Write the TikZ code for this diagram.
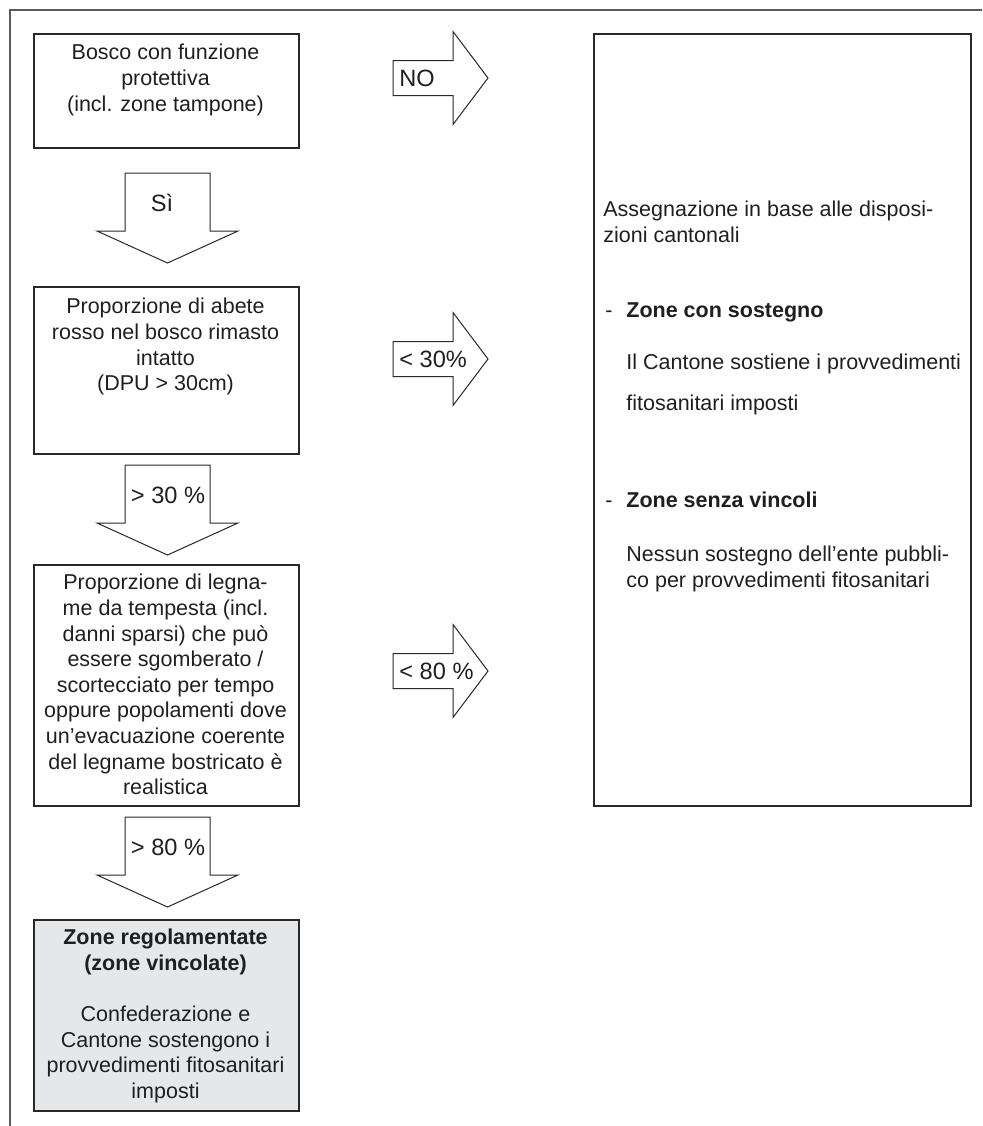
\documentclass[tikz,border=0pt]{standalone}
\usepackage{fontspec}
\setmainfont{Liberation Sans}
\definecolor{linegray}{RGB}{40,40,40}
\definecolor{framegray}{RGB}{90,90,90}
\definecolor{zoneshade}{RGB}{230,231,233}

\begin{document}
\begin{tikzpicture}[x=0.5pt,y=-0.5pt]
        \tikzstyle{every node}=[inner sep=0pt, font=\fontsize{10.75}{12.8}\selectfont, text=black!88]
        \tikzstyle{box}=[draw=linegray, line width=0.8pt, rectangle, anchor=north west]
        \tikzstyle{blockarrow}=[draw=linegray, line width=0.5pt, fill=white]
        \tikzstyle{arrowlabel}=[font=\fontsize{11.8}{13}\selectfont]
        \useasboundingbox (0,0) rectangle (982,1126);

        \draw [framegray, line width=0.8pt] (10,1126) -- (10,10) -- (982,10);

        % left column
        \foreach \nm/\ytop/\boxh in {bosco/33/57, abete/286/83.5, legname/564/120.5}
        {
          \path (33,\ytop) node[box, minimum width=132.5pt, minimum height=\boxh pt] (\nm) {};
        }
        \path (33,919) node[box, fill=zoneshade, minimum width=132.5pt, minimum height=95.5pt] (zone) {};

        \path (165.5,44) node[anchor=north, align=center] (t-bosco)
          {Bosco con funzione\\protettiva\\(incl. zone tampone)};
        \path (165.5,298) node[anchor=north, align=center] (t-abete)
          {Proporzione di abete\\rosso nel bosco rimasto\\intatto\\(DPU > 30cm)};
        \path (165.5,574) node[anchor=north, align=center] (t-legname)
          {Proporzione di legna-\\me da tempesta (incl.\\danni sparsi) che può\\essere sgomberato /\\scortecciato per tempo\\oppure popolamenti dove\\un’evacuazione coerente\\del legname bostricato è\\realistica};
        \path (165.5,929) node[anchor=north, align=center] (t-zone)
          {\textbf{Zone regolamentate}\\\textbf{(zone vincolate)}\\[12.8pt]Confederazione e\\Cantone sostengono i\\provvedimenti fitosanitari\\imposti};

        % right column
        \path (593,33) node[box, minimum width=188.5pt, minimum height=386pt] (cantone) {};
        \path (603,201) node[anchor=north west, align=left] (t-assegn)
          {Assegnazione in base alle disposi-\\zioni cantonali};
        \path (605,317) node[anchor=base west] (d1) {-};
        \path (626,317) node[anchor=base west] (z1) {\textbf{Zone con sostegno}};
        \path (626,354) node[anchor=north west, align=left] (t-z1)
          {Il Cantone sostiene i provvedimenti\\[7.7pt]fitosanitari imposti};
        \path (605,507) node[anchor=base west] (d2) {-};
        \path (626,507) node[anchor=base west] (z2) {\textbf{Zone senza vincoli}};
        \path (626,546) node[anchor=north west, align=left] (t-z2)
          {Nessun sostegno dell’ente pubbli-\\co per provvedimenti fitosanitari};

        % block arrows
        \foreach \nm/\y/\tx/\lab in {si/173/162/Sì, trenta/465/168/{> 30 \%}, ottanta/817/168/{> 80 \%}}
        {
          \draw [blockarrow] (125,\y) -- (210,\y) -- (210,\y+58) -- (238,\y+58)
            -- (167.5,\y+90) -- (97,\y+58) -- (125,\y+58) -- cycle;
          \path (\tx,\y+30) node[arrowlabel] (\nm) {\lab};
        }

        \foreach \nm/\y/\lab in {no/78/NO, meno30/359/{< 30\%}, meno80/671/{< 80 \%}}
        {
          \draw [blockarrow] (393,\y-17.5) -- (453,\y-17.5) -- (453,\y-46.5) -- (488,\y)
            -- (453,\y+46.5) -- (453,\y+17.5) -- (393,\y+17.5) -- cycle;
          \path (399,\y) node[arrowlabel, anchor=west] (\nm) {\lab};
        }
      \end{tikzpicture}
\end{document}
